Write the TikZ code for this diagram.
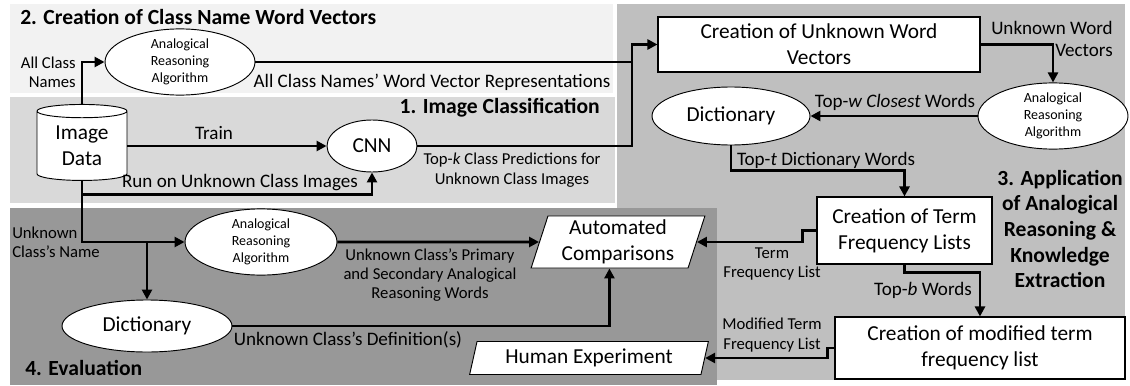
\documentclass[tikz,border=0pt]{standalone}
\usepackage{fontspec}
\setmainfont{Carlito}
\usetikzlibrary{shapes.geometric,arrows.meta,calc}
\definecolor{rTwo}{HTML}{F2F2F2}
\definecolor{rOne}{HTML}{D9D9D9}
\definecolor{rThree}{HTML}{BFBFBF}
\definecolor{rFour}{HTML}{989898}
\begin{document}
\begin{tikzpicture}[x=0.75pt,y=-0.75pt,
  flow/.style={line width=2.2pt,-{Triangle[length=7.5pt,width=7.5pt]}},
  conn/.style={line width=2.2pt},
  ell/.style={ellipse,draw,fill=white,line width=0.7pt,inner sep=0pt,align=center},
  bx/.style={rectangle,draw,fill=white,line width=0.8pt,inner sep=0pt,align=center,font=\fontsize{16}{19.5}\selectfont},
  par/.style={trapezium,trapezium left angle=73,trapezium right angle=107,trapezium stretches=true,draw,fill=white,line width=0.7pt,inner sep=0pt,align=center,font=\fontsize{16}{19.5}\selectfont},
  lbl/.style={font=\fontsize{14.3}{17}\selectfont,inner sep=0pt,align=center},
  slbl/.style={font=\fontsize{12.5}{14.5}\selectfont,inner sep=0pt,align=center},
  ttl/.style={font=\fontsize{16.2}{19.2}\bfseries\selectfont,inner sep=0pt,align=center},
  big/.style={font=\fontsize{16}{19.5}\selectfont},
  sm/.style={font=\fontsize{10.5}{13}\selectfont}]
\useasboundingbox (0,0) rectangle (1130,385);
\fill[white] (0,0) rectangle (1130,385);
% regions
\fill[rTwo] (10,4) rectangle (613,93);
\fill[rOne] (10,97) rectangle (615,203);
\fill[rThree] (617,4) rectangle (1125,380);
\fill[rFour] (10,208) rectangle (717,385);
% titles
\node[ttl,anchor=west] (t2) at (20,17) {2. Creation of Class Name Word Vectors};
\node[ttl,anchor=east] (t1) at (600,108) {1. Image Classification};
\node[ttl] (t3) at (1060,229) {3. Application\\of Analogical\\Reasoning \&\\Knowledge\\Extraction};
\node[ttl,anchor=west] (t4) at (25,368) {4. Evaluation};
% nodes
\node[ell,sm,minimum width=112.5pt,minimum height=40.5pt] (ara1) at (180,62) {Analogical\\Reasoning\\Algorithm};
\node[cylinder,shape border rotate=90,aspect=0.25,draw,fill=white,line width=0.7pt,big,align=center,minimum width=67.5pt,minimum height=57pt,inner sep=0pt] (img) at (82,146) {Image\\Data};
\node[ell,big,minimum width=67.5pt,minimum height=39pt] (cnn) at (372,146) {CNN};
\node[bx,minimum width=241.5pt,minimum height=41.25pt] (cuwv) at (819,44.5) {Creation of Unknown Word\\Vectors};
\node[ell,sm,minimum width=112.5pt,minimum height=43.5pt] (ara2) at (1053,116) {Analogical\\Reasoning\\Algorithm};
\node[ell,big,minimum width=118.5pt,minimum height=43.5pt] (dict1) at (731,116) {Dictionary};
\node[bx,minimum width=131.25pt,minimum height=50.25pt] (ctfl) at (904.5,230.5) {Creation of Term\\Frequency Lists};
\node[bx,minimum width=217.5pt,minimum height=46.5pt] (modtfl) at (980,348) {Creation of modified term\\frequency list};
\node[par,minimum width=130.5pt,minimum height=39pt] (ac) at (618,242) {Automated\\Comparisons};
\node[par,minimum width=179.25pt,minimum height=24.75pt] (hexp) at (589,358) {Human Experiment};
\node[ell,sm,minimum width=114pt,minimum height=39pt] (ara3) at (261,242) {Analogical\\Reasoning\\Algorithm};
\node[ell,big,minimum width=127.5pt,minimum height=39pt] (dict2) at (147,326) {Dictionary};
% labels
\node[slbl,anchor=east,align=right] (lacn) at (76,72) {All Class\\Names};
\node[lbl] (lrep) at (432,82) {All Class Names’ Word Vector Representations};
\node[lbl] (ltrain) at (214,133) {Train};
\node[lbl] (lrun) at (240,183) {Run on Unknown Class Images};
\node[slbl] (ltopk) at (512,170) {Top-\textit{k} Class Predictions for\\Unknown Class Images};
\node[lbl,anchor=east,align=right] (luwv) at (1113,39) {Unknown Word\\Vectors};
\node[lbl] (ltopw) at (895,102) {Top-\textit{w Closest} Words};
\node[lbl] (ltopt) at (826,160) {Top-\textit{t} Dictionary Words};
\node[slbl] (ltfl) at (772,264) {Term\\Frequency List};
\node[lbl] (ltopb) at (923,290) {Top-\textit{b} Words};
\node[slbl] (lmtfl) at (772,335) {Modified Term\\Frequency List};
\node[slbl,anchor=west,align=left] (lucn) at (12,242) {Unknown\\Class’s Name};
\node[slbl] (lprim) at (430,275) {Unknown Class’s Primary\\and Secondary Analogical\\Reasoning Words};
\node[lbl] (ldef) at (348,340) {Unknown Class’s Definition(s)};
% connectors
\coordinate (j1) at (632,44.5);
\draw[flow] (img.north) |- (ara1.west);
\draw[conn] (cnn.east) -| (j1);
\draw[flow] (ara1.east) -| (j1) -- (cuwv.west);
\draw[flow] (img.east |- cnn.west) -- (cnn.west);
\draw[flow] (img.south) -- ++(0,14) -| (cnn.south);
\draw[flow] (img.south) |- (ara3.west);
\coordinate (j2) at (dict2.north |- ara3.west);
\draw[flow] (j2) -- (dict2.north);
\draw[flow] (ara3.east) -- (ac.west);
\draw[flow] (dict2.east) -| (ac.bottom side);
\draw[flow] (cuwv.east) -| (ara2.north);
\draw[flow] (ara2.west) -- (dict1.east);
\draw[flow] (dict1.south) -- ++(0,25) -| (ctfl.north);
\draw[flow] (ctfl.west) -- ++(-14,0) |- (ac.east);
\draw[flow] (ctfl.south) -- ++(0,8) -| (modtfl.north);
\draw[flow] (modtfl.west) -- ++(-7,0) |- (hexp.east);
\end{tikzpicture}
\end{document}
